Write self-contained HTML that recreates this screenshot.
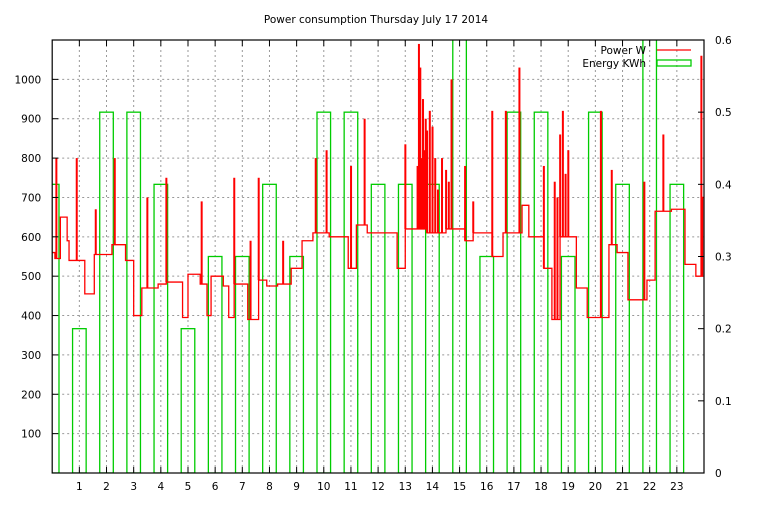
<!DOCTYPE html>
<html><head><meta charset="utf-8"><style>
body{margin:0;background:#fff;}
svg text{font-family:"DejaVu Sans","Liberation Sans",sans-serif;font-size:10.5px;fill:#000;}
</style></head><body>
<svg width="768" height="500" xmlns="http://www.w3.org/2000/svg">
<rect width="768" height="500" fill="#fff"/>
<text x="376" y="23" text-anchor="middle">Power consumption Thursday July 17 2014</text>
<g id="grid"></g>
<g id="energy"></g>
<g id="power"></g>
<g id="axes"></g>
<g>
<text x="646" y="54" text-anchor="end">Power W</text>
<line x1="657" y1="50" x2="691" y2="50" stroke="#f00" stroke-width="1.3"/>
<text x="646" y="67" text-anchor="end">Energy KWh</text>
<rect x="657" y="60" width="34" height="6" fill="none" stroke="#0c0" stroke-width="1.3"/>
</g>
</svg>
<script>
const hourTicks=[1,2,3,4,5,6,7,8,9,10,11,12,13,14,15,16,17,18,19,20,21,22,23];
const leftTicks=[100,200,300,400,500,600,700,800,900,1000];
const rightTicks=[0,0.1,0.2,0.3,0.4,0.5,0.6];
const energyHours=[0,1,2,3,4,5,6,7,8,9,10,11,12,13,14,15,16,17,18,19,20,21,22,23];
const energyKWh=[0.4,0.2,0.5,0.5,0.4,0.2,0.3,0.3,0.4,0.3,0.5,0.5,0.4,0.4,0.4,0.65,0.3,0.5,0.5,0.3,0.5,0.4,0.65,0.4];
const stepTimes=[0,0.1,0.3,0.55,0.62,1.2,1.55,2.2,2.7,3.0,3.3,3.9,4.2,4.8,5.0,5.45,5.7,5.85,6.3,6.5,6.7,7.2,7.6,7.9,8.3,8.8,9.2,9.6,10.2,10.9,11.2,11.6,12.2,12.7,13.0,13.8,14.5,15.2,15.5,16.2,16.6,17.3,17.55,18.1,18.4,18.7,19.3,19.7,20.5,20.8,21.2,21.9,22.2,22.8,23.3,23.7,23.95,24];
const stepWatts=[560,545,650,590,540,455,555,580,540,400,470,480,485,395,505,480,400,500,475,395,480,390,490,475,480,520,590,610,600,520,630,610,610,520,620,610,620,590,610,550,610,680,600,520,390,600,470,395,580,560,440,490,665,670,530,500,700,700];
const spikeTimes=[0.15,0.9,1.6,2.3,3.5,4.2,5.5,6.7,7.3,7.6,8.5,9.7,10.1,11.0,11.5,13.0,13.45,13.5,13.55,13.6,13.65,13.7,13.75,13.8,13.9,14.0,14.1,14.2,14.35,14.5,14.6,14.7,15.2,15.5,16.2,16.7,17.2,18.1,18.5,18.6,18.7,18.8,18.9,19.0,20.2,20.6,21.8,22.5,23.9];
const spikeWatts=[800,800,670,800,700,750,690,750,590,750,590,800,820,780,900,835,780,1090,1030,800,950,820,900,870,920,880,800,720,800,770,740,1000,780,690,920,920,1030,780,740,700,860,920,760,820,920,770,740,860,1060];
const X0=52.2,X1=704,Y0=473,YT=40;
const x=h=>X0+h*(X1-X0)/24;
const yW=w=>Y0-w*(Y0-YT)/1100;
const yE=e=>Y0-e*(Y0-YT)/0.6;
const NS='http://www.w3.org/2000/svg';
function mk(t,a,p){const e=document.createElementNS(NS,t);for(const k in a)e.setAttribute(k,a[k]);p.appendChild(e);return e;}
const grid=document.getElementById('grid'),axes=document.getElementById('axes'),en=document.getElementById('energy'),pw=document.getElementById('power');
hourTicks.forEach(h=>{
 const g=mk('line',{x1:x(h),x2:x(h),y1:YT,y2:Y0,stroke:'#999','stroke-dasharray':'2,3','stroke-width':1},grid);
 
 
 const t=mk('line',{x1:x(h),x2:x(h),y1:Y0,y2:Y0-6,stroke:'#000'},axes);
 
 
 const t2=mk('line',{x1:x(h),x2:x(h),y1:YT,y2:YT+6,stroke:'#000'},axes);
 
 
 const l=mk('text',{x:x(h),y:Y0+17,'text-anchor':'middle'},axes);l.textContent=h;
 
 
});
leftTicks.forEach(v=>{
 const g=mk('line',{x1:X0,x2:X1,y1:yW(v),y2:yW(v),stroke:'#999','stroke-dasharray':'2,3'},grid);
 
 
 const t=mk('line',{x1:X0,x2:X0+6,y1:yW(v),y2:yW(v),stroke:'#000'},axes);
 
 
 const l=mk('text',{x:X0-11,y:yW(v)+4,'text-anchor':'end'},axes);l.textContent=v;
 
 
});
rightTicks.forEach(v=>{
 const t=mk('line',{x1:X1,x2:X1-6,y1:yE(v),y2:yE(v),stroke:'#000'},axes);
 
 
 const l=mk('text',{x:X1+11,y:yE(v)+4},axes);l.textContent=v;
 
 
});
const fr=mk('rect',{x:X0,y:YT,width:X1-X0,height:Y0-YT,fill:'none',stroke:'#000','stroke-width':1.2},axes);


mk('clipPath',{id:'cp'},document.querySelector('svg')).appendChild(document.createElementNS(NS,'rect'));
const cr=document.querySelector('#cp rect');cr.setAttribute('x',X0);cr.setAttribute('y',YT);cr.setAttribute('width',X1-X0);cr.setAttribute('height',Y0-YT);
en.setAttribute('clip-path','url(#cp)');pw.setAttribute('clip-path','url(#cp)');
energyHours.forEach((h,i)=>{
 const b=mk('rect',{x:x(h-0.25),y:yE(energyKWh[i]),width:x(0.5)-x(0),height:Y0-yE(energyKWh[i]),fill:'none',stroke:'#0c0','stroke-width':1.3},en);
 
 
});
let d='M'+x(stepTimes[0])+','+yW(stepWatts[0]);
for(let i=1;i<stepTimes.length;i++){d+=' H'+x(stepTimes[i])+' V'+yW(stepWatts[i]);}
const pl=mk('path',{d:d,fill:'none',stroke:'#f00','stroke-width':1.3},pw);


function baseAt(t){let v=stepWatts[0];for(let i=0;i<stepTimes.length;i++){if(stepTimes[i]<=t)v=stepWatts[i];}return v;}
spikeTimes.forEach((t,i)=>{
 const s=mk('rect',{x:x(t)-0.9,y:yW(spikeWatts[i]),width:2,height:yW(baseAt(t))-yW(spikeWatts[i]),fill:'#f00'},pw);
 
 
});
</script>
</body></html>
